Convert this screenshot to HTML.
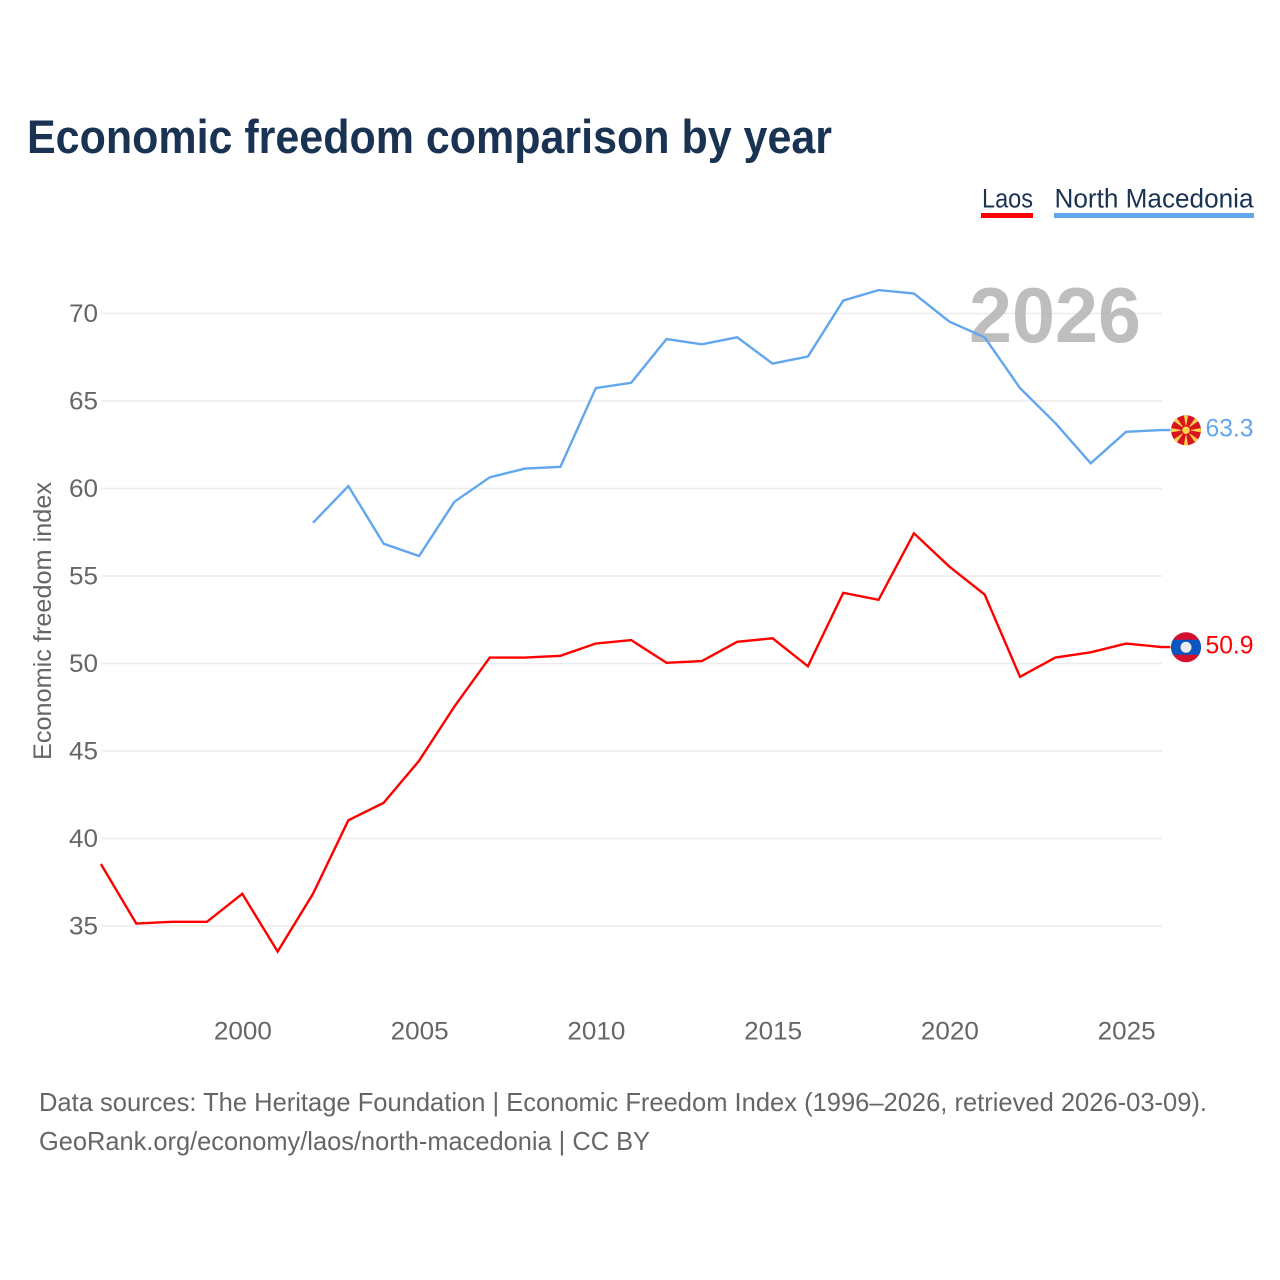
<!DOCTYPE html>
<html lang="en">
<head>
<meta charset="utf-8">
<title>Economic freedom comparison by year</title>
<style>
html,body{margin:0;padding:0;background:#fff;width:1280px;height:1280px;overflow:hidden}
svg{display:block;font-family:"Liberation Sans",sans-serif}
</style>
</head>
<body>
<svg id="chart" xmlns="http://www.w3.org/2000/svg" width="1280" height="1280" viewBox="0 0 1280 1280">
  <rect x="0" y="0" width="1280" height="1280" fill="#fff"/>
  <text x="27" y="153" font-size="47" font-weight="700" fill="#1a3353" textLength="805" lengthAdjust="spacingAndGlyphs">Economic freedom comparison by year</text>

  <g>
    <text x="982" y="207.5" font-size="27" fill="#1a3353" textLength="51" lengthAdjust="spacingAndGlyphs">Laos</text>
    <rect x="981" y="213" width="52" height="5" fill="#ff0000"/>
  </g>
  <g>
    <text x="1054.5" y="207.5" font-size="27" fill="#1a3353" textLength="199" lengthAdjust="spacingAndGlyphs">North Macedonia</text>
    <rect x="1054" y="213" width="200" height="5" fill="#62a6ee"/>
  </g>

  <g id="grid"></g>
  <g id="yticks"></g>
  <g id="xticks"></g>
  <text transform="translate(51 621) rotate(-90)" text-anchor="middle" font-size="25" fill="#666666" textLength="278" lengthAdjust="spacingAndGlyphs">Economic freedom index</text>

  <text x="969" y="342" font-size="78" font-weight="700" fill="#b5b5b5" fill-opacity="0.88" textLength="172" lengthAdjust="spacingAndGlyphs">2026</text>

  <g id="series" transform="translate(-0.6 -0.7)"></g>

  <g id="flag-north-macedonia"></g>
  <g id="flag-laos"></g>
  <g id="end-labels"></g>

  <text x="39" y="1111" font-size="26" fill="#666666" textLength="1168" lengthAdjust="spacingAndGlyphs">Data sources: The Heritage Foundation | Economic Freedom Index (1996–2026, retrieved 2026-03-09).</text>
  <text x="39" y="1150" font-size="26" fill="#666666" textLength="611" lengthAdjust="spacingAndGlyphs">GeoRank.org/economy/laos/north-macedonia | CC BY</text>
</svg>
<script>
const laosYears = [1996,1997,1998,1999,2000,2001,2002,2003,2004,2005,2006,2007,2008,2009,2010,2011,2012,2013,2014,2015,2016,2017,2018,2019,2020,2021,2022,2023,2024,2025,2026];
const laosValues = [38.5,35.1,35.2,35.2,36.8,33.5,36.8,41.0,42.0,44.4,47.5,50.3,50.3,50.4,51.1,51.3,50.0,50.1,51.2,51.4,49.8,54.0,53.6,57.4,55.5,53.9,49.2,50.3,50.6,51.1,50.9];
const macedoniaYears = [2002,2003,2004,2005,2006,2007,2008,2009,2010,2011,2012,2013,2014,2015,2016,2017,2018,2019,2020,2021,2022,2023,2024,2025,2026];
const macedoniaValues = [58.0,60.1,56.8,56.1,59.2,60.6,61.1,61.2,65.7,66.0,68.5,68.2,68.6,67.1,67.5,70.7,71.3,71.1,69.5,68.6,65.7,63.7,61.4,63.2,63.3];
const yTickValues = [35,40,45,50,55,60,65,70];
const xTickValues = [2000,2005,2010,2015,2020,2025];

const NS = 'http://www.w3.org/2000/svg';
const plotLeft = 101.5, plotRight = 1162;
const firstYear = 1996, lastYear = 2026;
function xScale(year){ return plotLeft + (year - firstYear) * (plotRight - plotLeft) / (lastYear - firstYear); }
function yScale(value){ return 926 - (value - 35) * (926 - 313.5) / 35; }
function make(tag, attrs, parent, text){
  const el = document.createElementNS(NS, tag);
  for (const k in attrs) el.setAttribute(k, attrs[k]);
  if (text !== undefined) el.textContent = text;
  parent.appendChild(el);
  return el;
}
const grid = document.getElementById('grid');
const yticks = document.getElementById('yticks');
const xticks = document.getElementById('xticks');
const series = document.getElementById('series');
const endLabels = document.getElementById('end-labels');

yTickValues.forEach(function(v){
  const line = make('line', {x1:plotLeft, x2:plotRight, y1:yScale(v), y2:yScale(v), stroke:'#ececec', 'stroke-width':1.6}, grid);
  
  
  const label = make('text', {x:98, y:yScale(v)+8.5, 'text-anchor':'end', 'font-size':25, fill:'#666666', textLength:29, lengthAdjust:'spacingAndGlyphs'}, yticks, String(v));
  
  
});
xTickValues.forEach(function(v){
  const label = make('text', {x:xScale(v), y:1039.5, 'text-anchor':'middle', 'font-size':25, fill:'#666666', textLength:58, lengthAdjust:'spacingAndGlyphs'}, xticks, String(v));
  
  
});
function pathFor(years, values){
  return years.map(function(y,i){ return (i ? 'L' : 'M') + xScale(y).toFixed(2) + ' ' + yScale(values[i]).toFixed(2); }).join(' ');
}
const flagX = 1186;
const laosLastY = yScale(laosValues[laosValues.length-1]);
const macLastY = yScale(macedoniaValues[macedoniaValues.length-1]);

const macLine = make('path', {d:pathFor(macedoniaYears, macedoniaValues) + ' L' + (flagX-15) + ' ' + macLastY.toFixed(2), fill:'none', stroke:'#62a6ee', 'stroke-width':2.4, 'stroke-linejoin':'miter'}, series);


const laosLine = make('path', {d:pathFor(laosYears, laosValues) + ' L' + (flagX-15) + ' ' + laosLastY.toFixed(2), fill:'none', stroke:'#ff0000', 'stroke-width':2.4, 'stroke-linejoin':'miter'}, series);



/* North Macedonia flag */
const mk = document.getElementById('flag-north-macedonia');
const mkY = macLastY - 0.5;
const mkDisc = make('circle', {cx:flagX, cy:mkY, r:15, fill:'#d8141e'}, mk);


for (let i = 0; i < 8; i++) {
  const a = i * Math.PI / 4;
  const s = 0.14;
  const p = [[flagX + 3*Math.sin(a), mkY - 3*Math.cos(a)],
             [flagX + 15*Math.sin(a-s), mkY - 15*Math.cos(a-s)],
             [flagX + 15*Math.sin(a+s), mkY - 15*Math.cos(a+s)]];
  const ray = make('polygon', {points:p.map(function(q){return q[0].toFixed(2)+','+q[1].toFixed(2);}).join(' '), fill:'#fcd24e'}, mk);
  
  
}
const mkRing = make('circle', {cx:flagX, cy:mkY, r:5, fill:'#d8141e'}, mk);


const mkSun = make('circle', {cx:flagX, cy:mkY, r:3.8, fill:'#fcd24e'}, mk);



/* Laos flag */
const la = document.getElementById('flag-laos');
const laY = laosLastY - 0.5;
const laDisc = make('circle', {cx:flagX, cy:laY, r:15, fill:'#d50f2e'}, la);


const hw = Math.sqrt(15*15 - 7.5*7.5);
const laBand = make('path', {d:'M'+(flagX-hw)+' '+(laY-7.5)+' L'+(flagX+hw)+' '+(laY-7.5)+' A15 15 0 0 1 '+(flagX+hw)+' '+(laY+7.5)+' L'+(flagX-hw)+' '+(laY+7.5)+' A15 15 0 0 1 '+(flagX-hw)+' '+(laY-7.5)+' Z', fill:'#0b55c0'}, la);


const laMoon = make('circle', {cx:flagX, cy:laY, r:5.5, fill:'#ececec'}, la);



const macEnd = make('text', {x:1205.5, y:macLastY+5.5, 'font-size':25, fill:'#62a6ee', textLength:48, lengthAdjust:'spacingAndGlyphs'}, endLabels, macedoniaValues[macedoniaValues.length-1].toFixed(1));


const laosEnd = make('text', {x:1205.5, y:laosLastY+5.5, 'font-size':25, fill:'#ff0000', textLength:48, lengthAdjust:'spacingAndGlyphs'}, endLabels, laosValues[laosValues.length-1].toFixed(1));


</script>
</body>
</html>
